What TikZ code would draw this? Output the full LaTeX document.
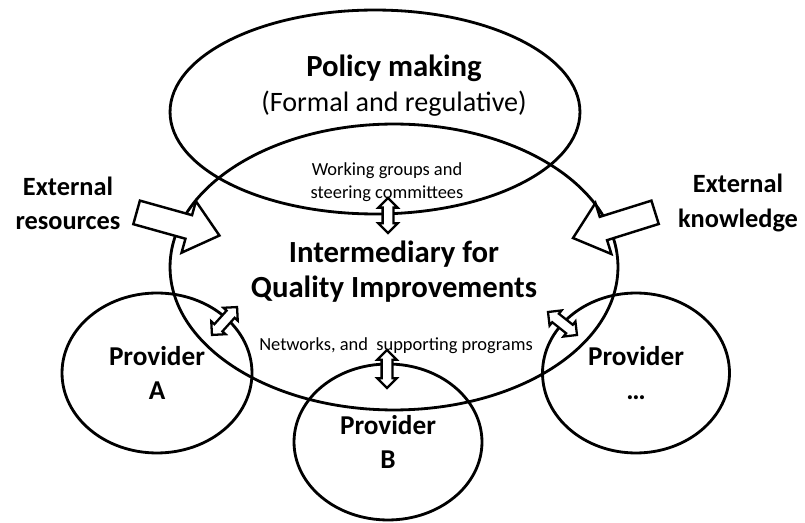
\documentclass[tikz,border=0pt]{standalone}
\usepackage{fontspec}
\setmainfont{Carlito}
\usetikzlibrary{shapes.geometric, shapes.arrows, positioning}
\tikzset{
  qiell/.style={ellipse, draw=black, line width=1.6pt, inner sep=0pt, align=center},
  qiprov/.style={qiell, font=\fontsize{15.5}{19.5}\selectfont\bfseries},
  qibig/.style={align=center, font=\fontsize{17.5}{20}\selectfont\bfseries},
  qismall/.style={align=center, font=\fontsize{10.5}{13}\selectfont},
  qiside/.style={align=center, font=\fontsize{15}{19.5}\selectfont\bfseries},
  qiblk/.style={single arrow, draw=black, fill=white, line width=1.4pt,
    inner sep=0pt, text height=0.22cm, text depth=0.22cm,
    single arrow head extend=0.29cm, single arrow tip angle=80,
    minimum height=1.72cm},
  qidbl/.style={double arrow, draw=black, fill=white, line width=1.3pt,
    inner sep=0pt, text height=0.085cm, text depth=0.085cm,
    double arrow head extend=0.085cm},
}
\begin{document}
\begin{tikzpicture}[x=0.02cm, y=-0.02cm]
  \useasboundingbox (0,0) rectangle (805,523);
  %% Policy making on top
  \node[qiell, minimum width=8.2cm, minimum height=4.08cm] (pol) at (375,112) {};
  \node[qibig] (poltxt) at (394,86)
        {Policy making\\{\fontsize{16}{20}\selectfont\mdseries (Formal and regulative)}};
  %% Intermediary in the middle
  \node[qiell, minimum width=8.96cm, minimum height=5.72cm] (inter) at (394,267) {};
  \node[qibig] (intertxt) at (394,272) {Intermediary for\\Quality Improvements};
  \node[qismall] (wg) at (387,182) {Working groups and\\steering committees};
  \node[qismall] (net) at (396,346) {Networks, and\ \ supporting programs};
  %% Providers
  \node[qiprov, minimum width=3.8cm, minimum height=3.2cm] (provA) at (157,373) {Provider\\A};
  \node[qiprov, minimum width=3.76cm, minimum height=3.12cm] (provB) at (388,442) {Provider\\B};
  \node[qiprov, minimum width=3.74cm, minimum height=3.2cm] (provN) at (636,373) {Provider\\…};
  %% External inputs
  \node[qiside] (extres) at (68,203) {External\\resources};
  \node[qiside] (extknow) at (738,203) {External\\knowledge};
  \node[qiblk, rotate=-15.6] (resarr) at (171,222) {};
  \node[qiblk, rotate=197.4] (knowarr) at (621,223) {};
  %% Exchange arrows
  \node[qidbl, rotate=90, minimum height=0.7cm] (polarr) at (388,215.5) {};
  \node[qidbl, rotate=90, minimum height=0.76cm] (barr) at (387,369) {};
  \node[qidbl, rotate=48, minimum height=0.75cm] (aarr) at (224.5,321) {};
  \node[qidbl, rotate=-38.4, minimum height=0.74cm] (narr) at (562.5,323.5) {};
\end{tikzpicture}
\end{document}
